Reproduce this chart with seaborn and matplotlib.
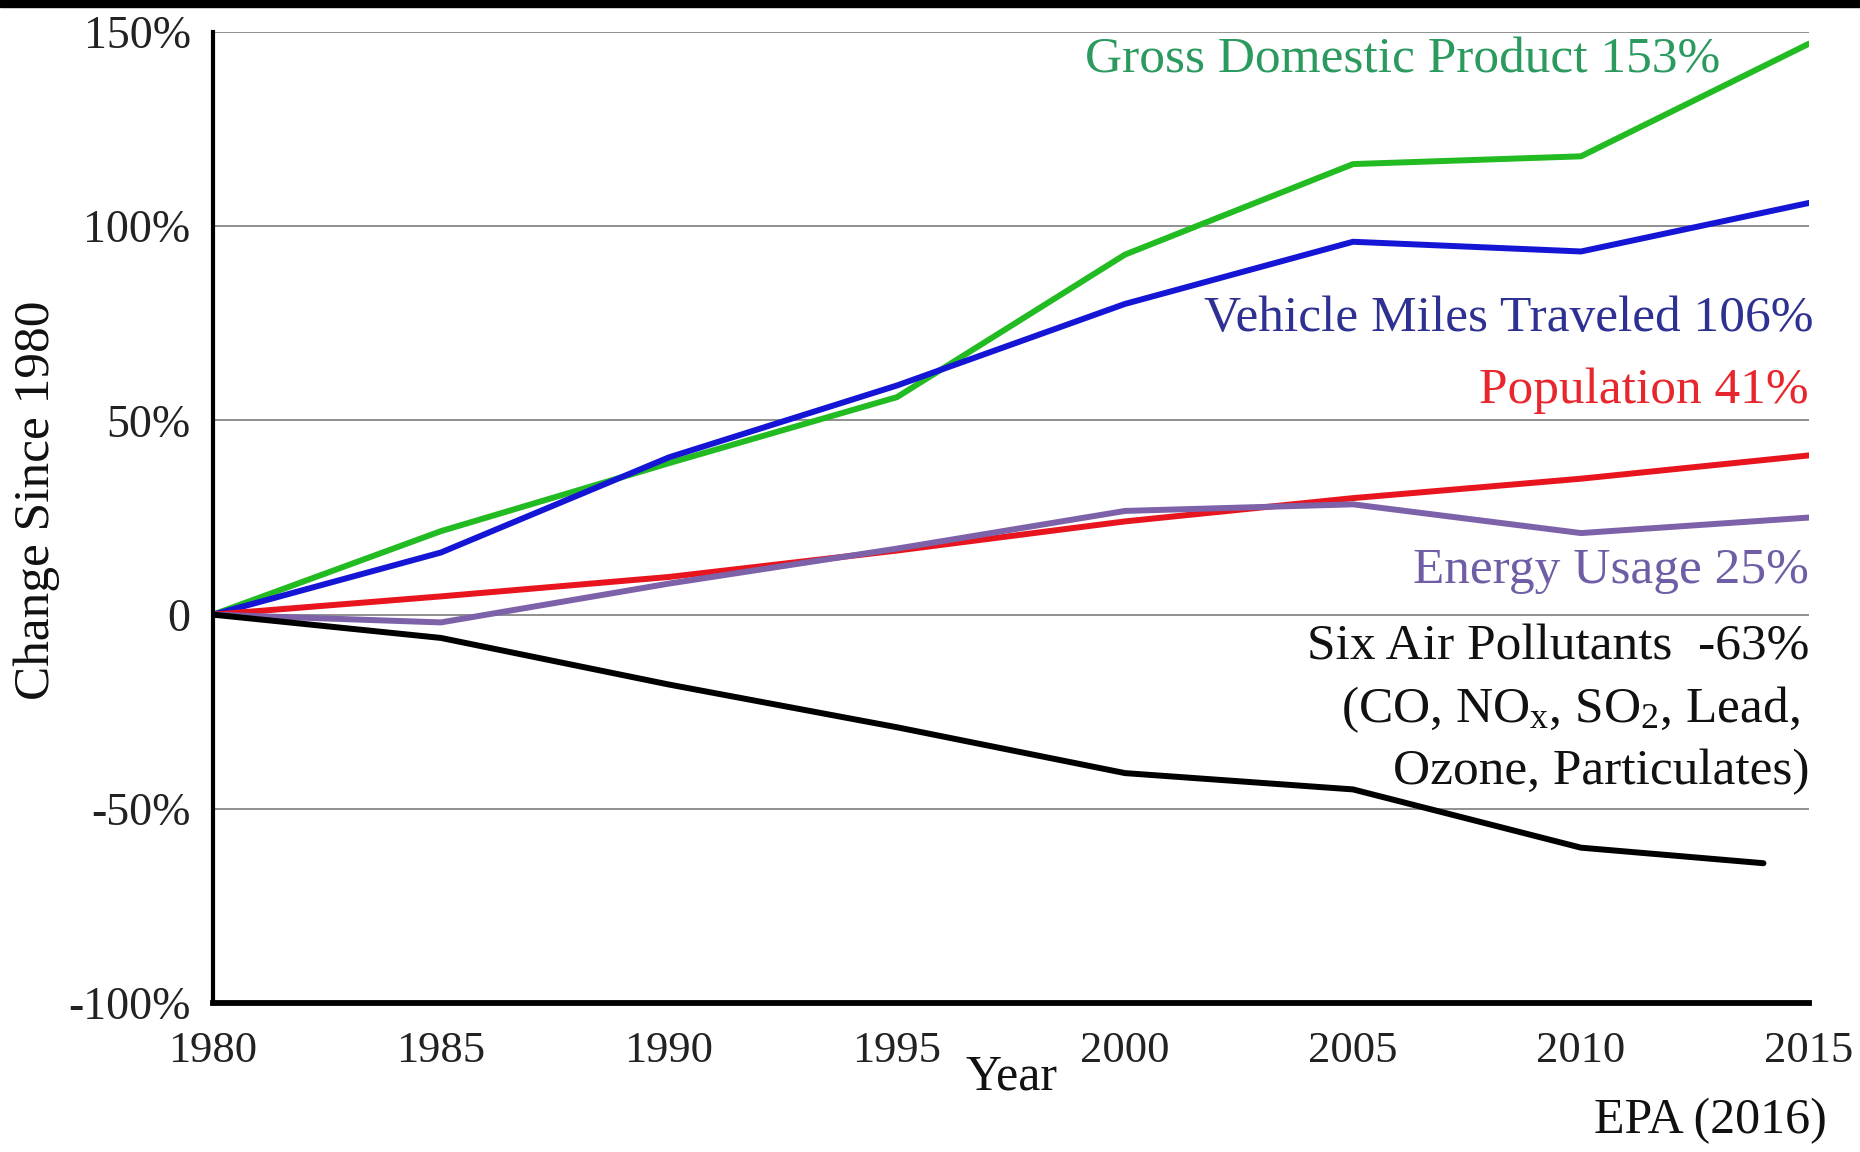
import pandas as pd
import matplotlib.pyplot as plt
import seaborn as sns
from matplotlib.patches import Rectangle

years = [1980, 1985, 1990, 1995, 2000, 2005, 2010, 2015]
gdp = [0, 21.5, 39, 56, 92.7, 116, 118, 147]
vmt = [0, 16, 40.5, 59, 80, 96, 93.5, 106]
population = [0, 4.7, 9.7, 16.5, 24, 30, 35, 41]
energy = [0, -2, 8, 17, 26.7, 28.4, 21, 25]
pollutant_years = [1980, 1985, 1990, 1995, 2000, 2005, 2010, 2014]
pollutants = [0, -6, -18, -29, -40.8, -45, -60, -64]

series_names = ["GDP", "VMT", "Population", "Energy", "Pollutants"]
line_colors = ["#22bb22", "#1515d6", "#e8141e", "#7d62aa", "#000000"]

y_ticks = [-100, -50, 0, 50, 100, 150]
y_tick_labels = ["-100%", "-50%", "0", "50%", "100%", "150%"]
x_ticks = [1980, 1985, 1990, 1995, 2000, 2005, 2010, 2015]

# long table for seaborn
frames = []
for name, yrs, vals in [("GDP", years, gdp), ("VMT", years, vmt),
                        ("Population", years, population), ("Energy", years, energy),
                        ("Pollutants", pollutant_years, pollutants)]:
    frames.append(pd.DataFrame({"year": yrs, "change": vals, "series": name}))
df = pd.concat(frames, ignore_index=True)

sns.set_theme(style="white")
plt.rcParams["font.family"] = ["Liberation Serif", "DejaVu Serif"]
plt.rcParams["mathtext.fontset"] = "custom"
plt.rcParams["mathtext.rm"] = "Liberation Serif"
plt.rcParams["mathtext.default"] = "regular"

fig = plt.figure(figsize=(18.6, 11.52), dpi=100)
ax = fig.add_axes([0.1145, 0.1293, 0.8581, 0.8429])

ax.yaxis.grid(True, color="#8f8f8f", lw=1.4)
ax.set_axisbelow(True)

sns.lineplot(data=df, x="year", y="change", hue="series", hue_order=series_names,
             palette=dict(zip(series_names, line_colors)), linewidth=4.3, legend=False,
             ax=ax, estimator=None, sort=True)

ax.set_xlim(1980, 2015)
ax.set_ylim(-100, 150)
ax.set_xticks(x_ticks)
ax.set_xticklabels([str(y) for y in x_ticks], fontsize=32)
ax.set_yticks(y_ticks)
ax.set_yticklabels(y_tick_labels, fontsize=33)

for side in ["top", "right"]:
    ax.spines[side].set_visible(False)
ax.spines["left"].set_color("black")
ax.spines["left"].set_linewidth(3)
ax.spines["bottom"].set_color("black")
ax.spines["bottom"].set_linewidth(4.2)
ax.tick_params(axis="y", direction="out", length=10, width=3.5, color="black", pad=6,
               labelcolor="#222222")
ax.tick_params(axis="x", direction="out", length=12, width=3, color="black", pad=8,
               labelcolor="#222222")

ax.set_xlabel("Year", fontsize=36, color="#111111")
ax.xaxis.set_label_coords(0.5, -0.052)
ax.set_ylabel("Change Since 1980", fontsize=37, color="#111111")
ax.yaxis.set_label_coords(-0.096, 0.518)

# series annotations
lab = dict(fontsize=37, ha="right", va="center")
ax.text(2013.05, 142.7, "Gross Domestic Product 153%", color="#2a9a5e", **lab)
ax.text(2015.1, 76.2, "Vehicle Miles Traveled 106%", color="#2e3192", **lab)
ax.text(2015, 57.6, "Population 41%", color="#e8262d", **lab)
ax.text(2015, 11.3, "Energy Usage 25%", color="#6f5ea6", **lab)
ax.text(2015, -8.5, "Six Air Pollutants  -63%", color="#111111", **lab)
ax.text(2014.8, -24.4, "(CO, NO$_x$, SO$_2$, Lead,", color="#111111", **lab)
ax.text(2015, -40.5, "Ozone, Particulates)", color="#111111", **lab)

fig.text(0.982, 0.027, "EPA (2016)", fontsize=36, ha="right", va="center", color="#111111")

# thin black strip along the top edge
fig.patches.append(Rectangle((0, 1 - 7 / 1152), 1, 7 / 1152, transform=fig.transFigure,
                             color="black", zorder=10))

fig.savefig("out.png", dpi=100)
